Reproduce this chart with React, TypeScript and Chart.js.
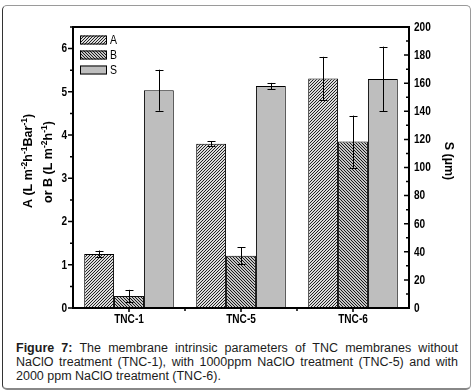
import React, { useEffect, useRef } from "react";
import { Chart, registerables } from "chart.js";

Chart.register(...registerables);

const categories = ["TNC-1", "TNC-5", "TNC-6"];
const valuesA = [1.25, 3.8, 5.31];
const errorsA = [0.08, 0.06, 0.5];
const valuesB = [0.28, 1.21, 3.85];
const errorsB = [0.14, 0.19, 0.6];
const valuesS = [155, 158, 163];
const errorsS = [14.6, 2.2, 23];
const leftTickValues = [0, 1, 2, 3, 4, 5, 6];
const rightTickValues = [0, 20, 40, 60, 80, 100, 120, 140, 160, 180, 200];
const legendLabels = ["A", "B", "S"];
const leftTitle1 = [
  { t: "A (L m", sup: false },
  { t: "-2", sup: true },
  { t: "h", sup: false },
  { t: "-1", sup: true },
  { t: "Bar", sup: false },
  { t: "-1", sup: true },
  { t: ")", sup: false },
];
const leftTitle2 = [
  { t: "or B (L m", sup: false },
  { t: "-2", sup: true },
  { t: "h", sup: false },
  { t: "-1", sup: true },
  { t: ")", sup: false },
];
const rightTitle = "S (\u00b5m)";
const captionBold = "Figure 7:";
const captionLine1 = " The membrane intrinsic parameters of TNC membranes without";
const captionLine2 = "NaClO treatment (TNC-1), with 1000ppm NaClO treatment (TNC-5) and with";
const captionLine3 = "2000 ppm NaClO treatment (TNC-6).";

const SANS = "'Liberation Sans', Arial, sans-serif";
const NARROW_SCALE = 0.84;

function makePattern(ctx: CanvasRenderingContext2D, dir: "fwd" | "back", dark: string, light: string) {
  const c = document.createElement("canvas");
  c.width = 3;
  c.height = 3;
  const t = c.getContext("2d")!;
  t.fillStyle = light;
  t.fillRect(0, 0, 3, 3);
  t.fillStyle = dark;
  for (let y = 0; y < 3; y++) {
    for (let x = 0; x < 3; x++) {
      const on = dir === "fwd" ? (x + y) % 3 === 2 : (x - y + 3) % 3 === 0;
      if (on) t.fillRect(x, y, 1, 1);
    }
  }
  return ctx.createPattern(c, "repeat")!;
}

function drawRich(ctx: CanvasRenderingContext2D, segs: { t: string; sup: boolean }[]) {
  const big = "bold 12.5px " + SANS;
  const small = "bold 8.5px " + SANS;
  let total = 0;
  for (const s of segs) {
    ctx.font = s.sup ? small : big;
    total += ctx.measureText(s.t).width;
  }
  let x = -total / 2;
  ctx.textAlign = "left";
  ctx.textBaseline = "alphabetic";
  for (const s of segs) {
    ctx.font = s.sup ? small : big;
    ctx.fillText(s.t, x, s.sup ? -5 : 0);
    x += ctx.measureText(s.t).width;
  }
}

function drawNarrow(ctx: CanvasRenderingContext2D, text: string, x: number, y: number, align: CanvasTextAlign, baseline: CanvasTextBaseline, font: string) {
  ctx.save();
  ctx.translate(x, y);
  ctx.scale(NARROW_SCALE, 1);
  ctx.font = font;
  ctx.textAlign = align;
  ctx.textBaseline = baseline;
  ctx.fillText(text, 0, 0);
  ctx.restore();
}

const decorPlugin = {
  id: "decor",
  afterDatasetsDraw(chart: any) {
    const ctx: CanvasRenderingContext2D = chart.ctx;
    ctx.save();
    ctx.strokeStyle = "#000";
    ctx.lineWidth = 1;
    chart.data.datasets.forEach((ds: any, i: number) => {
      const meta = chart.getDatasetMeta(i);
      const scale = chart.scales[ds.yAxisID];
      meta.data.forEach((el: any, j: number) => {
        const v = ds.data[j];
        const e = ds.errors[j];
        const x = Math.round(el.x) + 0.5;
        const yt = scale.getPixelForValue(v + e);
        const yb = scale.getPixelForValue(v - e);
        ctx.beginPath();
        ctx.moveTo(x, yt);
        ctx.lineTo(x, yb);
        ctx.moveTo(x - 4, Math.round(yt) + 0.5);
        ctx.lineTo(x + 4, Math.round(yt) + 0.5);
        ctx.moveTo(x - 4, Math.round(yb) + 0.5);
        ctx.lineTo(x + 4, Math.round(yb) + 0.5);
        ctx.stroke();
      });
    });
    ctx.restore();
  },
  afterDraw(chart: any) {
    const ctx: CanvasRenderingContext2D = chart.ctx;
    const { left, right, top, bottom } = chart.chartArea;
    const yL = chart.scales.y;
    const yR = chart.scales.y1;
    const xS = chart.scales.x;
    ctx.save();
    ctx.strokeStyle = "#000";
    ctx.lineWidth = 2;
    ctx.strokeRect(left, top, right - left, bottom - top);
    ctx.lineWidth = 1.5;
    ctx.beginPath();
    leftTickValues.forEach((v) => {
      const y = yL.getPixelForValue(v);
      ctx.moveTo(left - 5, y);
      ctx.lineTo(left, y);
      const m = yL.getPixelForValue(v + 0.5);
      ctx.moveTo(left - 3, m);
      ctx.lineTo(left, m);
    });
    rightTickValues.forEach((v, i) => {
      const y = yR.getPixelForValue(v);
      ctx.moveTo(right - 5, y);
      ctx.lineTo(right, y);
      if (i < rightTickValues.length - 1) {
        const m = yR.getPixelForValue(v + 10);
        ctx.moveTo(right - 3, m);
        ctx.lineTo(right, m);
      }
    });
    categories.forEach((_, i) => {
      const x = xS.getPixelForValue(i);
      ctx.moveTo(x, bottom);
      ctx.lineTo(x, bottom + 4);
      if (i < categories.length - 1) {
        const b = (x + xS.getPixelForValue(i + 1)) / 2;
        ctx.moveTo(b, bottom);
        ctx.lineTo(b, bottom + 3);
      }
    });
    ctx.stroke();

    // tick labels
    ctx.fillStyle = "#000";
    const tf = "bold 12px " + SANS;
    leftTickValues.forEach((v) => {
      drawNarrow(ctx, String(v), left - 6, yL.getPixelForValue(v) + 0.5, "right", "middle", tf);
    });
    rightTickValues.forEach((v) => {
      drawNarrow(ctx, String(v), right + 5, yR.getPixelForValue(v) + 0.5, "left", "middle", tf);
    });
    categories.forEach((c, i) => {
      drawNarrow(ctx, c, xS.getPixelForValue(i), bottom + 6, "center", "top", tf);
    });

    // legend
    const fills = chart.data.datasets.map((d: any) => d.backgroundColor);
    const rows = [35.5, 50.5, 65.5];
    ctx.lineWidth = 1;
    legendLabels.forEach((lab, i) => {
      ctx.fillStyle = fills[i];
      ctx.fillRect(80, rows[i], 27, 9);
      ctx.strokeStyle = "#000";
      ctx.strokeRect(80.5, rows[i] + 0.5, 26, 8);
      ctx.fillStyle = "#000";
      drawNarrow(ctx, lab, 110, rows[i] + 5, "left", "middle", "12.5px " + SANS);
    });

    // axis titles
    ctx.fillStyle = "#000";
    ctx.save();
    ctx.translate(32, 161);
    ctx.rotate(-Math.PI / 2);
    drawRich(ctx, leftTitle1);
    ctx.restore();
    ctx.save();
    ctx.translate(51.5, 162);
    ctx.rotate(-Math.PI / 2);
    drawRich(ctx, leftTitle2);
    ctx.restore();
    ctx.save();
    ctx.translate(444.5, 161);
    ctx.rotate(Math.PI / 2);
    drawRich(ctx, [{ t: rightTitle, sup: false }]);
    ctx.restore();
    ctx.restore();
  },
};

export default function App() {
  const ref = useRef<HTMLCanvasElement | null>(null);
  useEffect(() => {
    const canvas = ref.current!;
    const ctx = canvas.getContext("2d")!;
    const patA = makePattern(ctx, "fwd", "#222", "#dcdcdc");
    const patB = makePattern(ctx, "back", "#1a1a1a", "#c4c4c4");
    const chart = new Chart(canvas, {
      type: "bar",
      data: {
        labels: categories,
        datasets: [
          { label: "A", data: valuesA, errors: errorsA, yAxisID: "y", backgroundColor: patA, borderColor: "#000", borderWidth: 1 } as any,
          { label: "B", data: valuesB, errors: errorsB, yAxisID: "y", backgroundColor: patB, borderColor: "#000", borderWidth: 1 } as any,
          { label: "S", data: valuesS, errors: errorsS, yAxisID: "y1", backgroundColor: "#bebebe", borderColor: "#000", borderWidth: 1 } as any,
        ],
      },
      options: {
        animation: false,
        responsive: false,
        layout: { padding: { top: 27, left: 0, right: 0, bottom: 0 } },
        datasets: { bar: { categoryPercentage: 0.8, barPercentage: 1 } },
        plugins: { legend: { display: false }, tooltip: { enabled: false }, title: { display: false } },
        scales: {
          x: {
            type: "category",
            offset: true,
            grid: { display: false },
            border: { display: false },
            ticks: { display: false },
            afterFit: (s: any) => { s.height = 32; },
          },
          y: {
            position: "left",
            min: 0,
            max: 6.5,
            grid: { display: false },
            border: { display: false },
            afterBuildTicks: (s: any) => { s.ticks = leftTickValues.map((v) => ({ value: v })); },
            ticks: { display: false },
            afterFit: (s: any) => { s.width = 73; },
          },
          y1: {
            position: "right",
            min: 0,
            max: 200,
            grid: { display: false },
            border: { display: false },
            afterBuildTicks: (s: any) => { s.ticks = rightTickValues.map((v) => ({ value: v })); },
            ticks: { display: false },
            afterFit: (s: any) => { s.width = 64; },
          },
        },
      } as any,
      plugins: [decorPlugin],
    });
    return () => chart.destroy();
  }, []);

  const lineStyle: React.CSSProperties = {
    textAlign: "justify",
    textAlignLast: "justify",
  } as any;

  return (
    <div style={{ position: "absolute", left: 0, top: 0, width: 473, height: 392, background: "#fff" }}>
      <div
        style={{
          position: "absolute",
          left: 2,
          top: 5,
          width: 469,
          height: 385,
          boxSizing: "border-box",
          border: "1px solid #9a9a9a",
          borderLeftColor: "#333",
          borderBottom: "2px solid #888",
          borderRadius: 5,
        }}
      />
      <canvas ref={ref} width={473} height={340} style={{ position: "absolute", left: 0, top: 0, width: 473, height: 340 }} />
      <div
        style={{
          position: "absolute",
          left: 16,
          top: 340.5,
          width: 442,
          fontFamily: SANS,
          fontSize: 12.5,
          lineHeight: "14.3px",
          color: "#1c1c1c",
        }}
      >
        <div style={lineStyle}>
          <b>{captionBold}</b>
          {captionLine1}
        </div>
        <div style={lineStyle}>{captionLine2}</div>
        <div>{captionLine3}</div>
      </div>
    </div>
  );
}
